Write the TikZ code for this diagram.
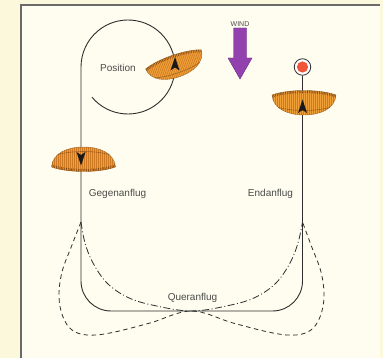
\documentclass[tikz,border=0pt]{standalone}
\usepackage{fontspec}
\setmainfont{Liberation Sans}
\definecolor{paperout}{HTML}{FBF8DC}
\definecolor{paperin}{HTML}{FEFDEF}
\definecolor{framegrey}{HTML}{6A6A6A}
\definecolor{trackcol}{HTML}{2E2E2E}
\definecolor{labelgrey}{HTML}{4A4A4A}
\definecolor{wingorange}{HTML}{F0A038}
\definecolor{wingcell}{HTML}{CD7A22}
\definecolor{wingdark}{HTML}{6E3C12}
\definecolor{windpurple}{HTML}{9441B0}
\definecolor{windedge}{HTML}{6A2C82}
\definecolor{targetred}{HTML}{F0553A}
\tikzset{
  frameline/.style={draw=framegrey, line width=1.4pt},
  track/.style={draw=trackcol, line width=0.9pt},
  trackdashed/.style={draw=trackcol, line width=0.8pt, dash pattern=on 4.5pt off 3.5pt},
  trackdashdot/.style={draw=trackcol, line width=0.8pt, dash pattern=on 7pt off 2.5pt on 1pt off 2.5pt},
  lbl/.style={text=labelgrey, font=\fontsize{10}{12}\selectfont, inner sep=0pt},
  smalllbl/.style={text=labelgrey, font=\fontsize{7}{8}\selectfont, inner sep=0pt},
  pics/wing/.style={code={
    \begin{scope}
      \path[clip] (-32,5) .. controls (-16,-1) and (16,-1) .. (32,5)
        .. controls (31,19) and (16,25) .. (0,25)
        .. controls (-16,25) and (-31,19) .. (-32,5) -- cycle;
      \fill[wingorange] (-33,-2) rectangle (33,26);
      \foreach \i in {-31,-29,...,31} \draw[wingcell, line width=0.55pt] (\i,-2) -- (\i,26);
      \draw[wingdark, line width=3.2pt, dash pattern=on 0.6pt off 1.1pt, opacity=0.85]
        (-32,6) .. controls (-16,0) and (16,0) .. (32,6);
      \draw[wingdark, line width=0.6pt, opacity=0.5]
        (-30,16) .. controls (-15,22) and (15,22) .. (30,16);
    \end{scope}
    \draw[wingdark, line width=0.4pt, opacity=0.6]
      (-32,5) .. controls (-16,-1) and (16,-1) .. (32,5)
      .. controls (31,19) and (16,25) .. (0,25)
      .. controls (-16,25) and (-31,19) .. (-32,5) -- cycle;
  }},
  pics/headtip/.style={code={
    \fill[black!90] (0,-7.5) -- (4.5,6) -- (0,3) -- (-4.5,6) -- cycle;
  }}
}
\begin{document}
\begin{tikzpicture}[x=1pt, y=-1pt]
  \useasboundingbox (0,0) rectangle (383,358);
  % paper and frame
  \fill[paperout] (0,0) rectangle (383,358);
  \fill[paperin] (21,5) rectangle (380,358);
  \draw[frameline] (380,5) -- (21,5) -- (21,358);

  % reference points of the circuit
  \coordinate (loopend) at ({128+47*cos(140)},{67+47*sin(140)});
  \coordinate (split) at (81,222);
  \coordinate (rsplit) at (302.5,222);
  \coordinate (mid) at (191.5,311);

  % target marker
  \node[circle, draw=trackcol, line width=0.8pt, fill=white, minimum size=16.5pt, inner sep=0pt] (target) at (302.5,67) {};
  \fill[targetred] (target.center) circle (5.6);

  % main circuit: position circle, downwind, base and final legs
  \draw[track] (loopend) arc[start angle=140, end angle=-180, radius=47]
    -- (81,281) arc[start angle=180, end angle=90, radius=30]
    -- (272.5,311) arc[start angle=90, end angle=0, radius=30]
    -- (target.south);

  % alternative base legs
  \draw[trackdashdot] plot[smooth, tension=0.6] coordinates {
    (split) (85,243) (93,263) (107,283) (127,297) (152,305) (mid)
    (231,305) (256,297) (276,283) (290,263) (298,243) (rsplit)};
  \draw[trackdashed] plot[smooth, tension=0.6] coordinates {
    (split) (72,245) (62,272) (59,297) (63,317) (72,330) (87,335) (110,333) (150,323) (mid)
    (233,323) (273,333) (296,335) (311,330) (320,317) (324,297) (321,272) (311,245) (rsplit)};

  % gliders
  \pic[rotate=19, scale=0.92] at (172,55) {wing};
  \pic[rotate=180] at (83.5,172) {wing};
  \pic at (304,90) {wing};
  \pic at (175,64.5) {headtip};
  \pic[rotate=180] at (81,158) {headtip};
  \pic at (302.5,107) {headtip};

  % wind arrow
  \draw[windedge, fill=windpurple, line width=0.4pt]
    (233.5,28) -- (246.5,28) -- (246.5,58) -- (252,58) -- (240,79) -- (228,58) -- (233.5,58) -- cycle;
  \node[smalllbl] (wind) at (240,24) {WIND};

  % labels
  \node[lbl] (position) at (118,68) {Position};
  \node[lbl] (gegen) at (117.5,194) {Gegenanflug};
  \node[lbl] (end) at (270.5,194) {Endanflug};
  \node[lbl] (quer) at (192.5,298) {Queranflug};
\end{tikzpicture}
\end{document}
